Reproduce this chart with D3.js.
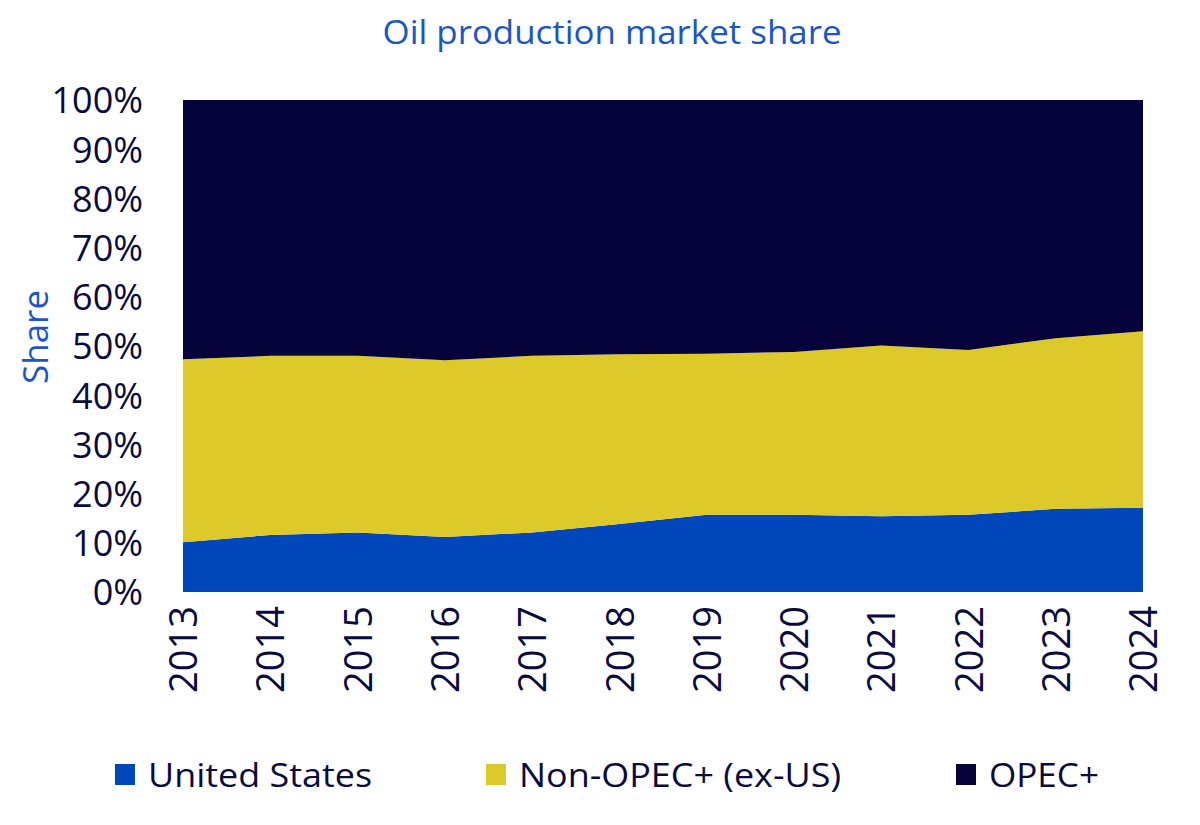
<!DOCTYPE html>
<html lang="en">
<head>
<meta charset="utf-8">
<title>Oil production market share</title>
<script src="https://d3js.org/d3.v7.min.js"></script>
<style>
  body { margin: 0; background: #fff; }
  text { font-family: "Open Sans", sans-serif; }
</style>
</head>
<body>
<script>
// data (share in %)
var years = [2013, 2014, 2015, 2016, 2017, 2018, 2019, 2020, 2021, 2022, 2023, 2024];
var unitedStates = [10.1, 11.6, 12.1, 11.2, 12.1, 13.8, 15.7, 15.7, 15.4, 15.7, 16.9, 17.1];
var nonOpecExUS  = [37.2, 36.4, 35.9, 35.9, 35.9, 34.5, 32.7, 33.1, 34.7, 33.5, 34.7, 35.9];
var opecPlus     = [52.7, 52.0, 52.0, 52.9, 52.0, 51.7, 51.6, 51.2, 49.9, 50.8, 48.4, 47.0];
var seriesNames = ["United States", "Non-OPEC+ (ex-US)", "OPEC+"];
var yTicks = [0, 10, 20, 30, 40, 50, 60, 70, 80, 90, 100];

var colors = ["#0047bb", "#ddca2a", "#05033a"];
var ink = "#0a0a3c";
var blue = "#1a56c6";

var W = 1200, H = 825;
var margin = {left: 183, right: 57, top: 100, bottom: 233};

var svg = d3.select("body").append("svg")
    .attr("width", W)
    .attr("height", H);

var rows = years.map(function(y, i) {
    return {year: y, us: unitedStates[i], non: nonOpecExUS[i], opec: opecPlus[i]};
});

var x = d3.scaleLinear()
    .domain(d3.extent(years))
    .range([margin.left, W - margin.right]);

var y = d3.scaleLinear()
    .domain([0, 100])
    .range([H - margin.bottom, margin.top]);

var stack = d3.stack().keys(["us", "non", "opec"]);
var layers = stack(rows);

var area = d3.area()
    .x(function(d) { return x(d.data.year); })
    .y0(function(d) { return y(d[0]); })
    .y1(function(d) { return y(d[1]); });

svg.append("g").selectAll("path")
    .data(layers)
    .enter().append("path")
    .attr("d", area)
    .attr("fill", function(d, i) { return colors[i]; });

// title
svg.append("text")
    .attr("x", 612)
    .attr("y", 44)
    .attr("text-anchor", "middle")
    .attr("font-size", 33)
    .attr("fill", blue)
    .attr("textLength", 459)
    .attr("lengthAdjust", "spacingAndGlyphs")
    .text("Oil production market share");

// y axis
var yAxis = svg.append("g")
    .attr("transform", "translate(" + (margin.left - 40) + ",0)")
    .call(d3.axisLeft(y).tickValues(yTicks).tickSize(0).tickPadding(0)
        .tickFormat(function(d) { return d + "%"; }));
yAxis.select(".domain").remove();
yAxis.selectAll("text")
    .attr("font-family", "'Open Sans', sans-serif")
    .attr("font-size", 36)
    .attr("fill", ink)
    .attr("dy", "0.36em");

svg.append("text")
    .attr("transform", "translate(48,337) rotate(-90)")
    .attr("text-anchor", "middle")
    .attr("font-size", 35)
    .attr("fill", blue)
    .text("Share");

// x axis
var xAxis = svg.append("g")
    .attr("transform", "translate(0," + (H - margin.bottom) + ")")
    .call(d3.axisBottom(x).tickValues(years).tickSize(0).tickPadding(0)
        .tickFormat(d3.format("d")));
xAxis.select(".domain").remove();
xAxis.selectAll("text")
    .attr("font-family", "'DejaVu Sans', sans-serif")
    .attr("font-size", 38)
    .attr("fill", ink)
    .attr("text-anchor", "end")
    .attr("transform", "rotate(-90)")
    .attr("x", -14)
    .attr("y", 0)
    .attr("dy", "0.36em");

// legend
var legendX = [115, 486, 956];
var legendW = [224, 322, 110];
var legend = svg.append("g").selectAll("g")
    .data(seriesNames)
    .enter().append("g")
    .attr("transform", function(d, i) { return "translate(" + legendX[i] + ",764)"; });

legend.append("rect")
    .attr("width", 20)
    .attr("height", 21)
    .attr("fill", function(d, i) { return colors[i]; });

legend.append("text")
    .attr("x", 33)
    .attr("y", 23)
    .attr("font-size", 33)
    .attr("fill", ink)
    .attr("textLength", function(d, i) { return legendW[i]; })
    .attr("lengthAdjust", "spacingAndGlyphs")
    .text(function(d) { return d; });
</script>
</body>
</html>
